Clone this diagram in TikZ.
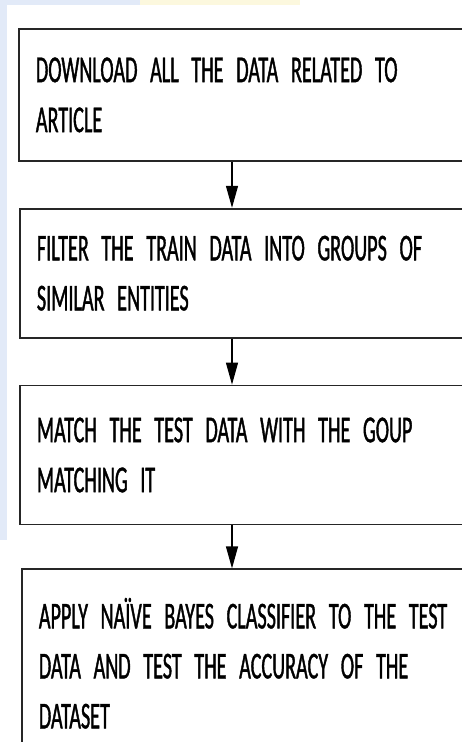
\documentclass[tikz,border=0pt]{standalone}
\usepackage{fontspec}
\setmainfont{Carlito}[FakeStretch=0.53,FakeBold=1]
\usetikzlibrary{arrows.meta,positioning}
\definecolor{washblue}{RGB}{226,234,248}
\definecolor{washyellow}{RGB}{252,248,222}

\begin{document}
\begin{tikzpicture}[>={Triangle[length=22pt,width=12pt]},x=1pt,y=-1pt,
 stepbox/.style={draw=black!85,line width=1.8pt,anchor=north west,align=left,
  text width=440pt,inner xsep=17pt,font=\fontsize{38}{50}\selectfont},
 flow/.style={->,line width=1.2pt}]
\clip (0,0) rectangle (462,742);
\fill[white] (0,0) rectangle (462,742);
\fill[washblue] (0,0) rectangle (7,540);
\fill[washblue] (0,0) rectangle (300,5);
\fill[washyellow] (140,0) rectangle (300,5);
\node[stepbox,minimum height=132pt] (download) at (18,28)
 {DOWNLOAD ALL THE DATA RELATED TO\\ARTICLE};
\node[stepbox,minimum height=129pt,below=46pt of download.south west,anchor=north west,xshift=1pt] (filter)
 {FILTER THE TRAIN DATA INTO GROUPS OF\\SIMILAR ENTITIES};
\node[stepbox,minimum height=139pt,below=46pt of filter.south west,anchor=north west] (match)
 {MATCH THE TEST DATA WITH THE GOUP\\MATCHING IT};
\node[stepbox,minimum height=188pt,below=43pt of match.south west,anchor=north west,xshift=2pt] (apply)
 {APPLY NAÏVE BAYES CLASSIFIER TO THE TEST\\DATA AND TEST THE ACCURACY OF THE\\DATASET};
\coordinate (ax) at (232,0);
\draw[flow] (download.south -| ax) -- (filter.north -| ax);
\draw[flow] (filter.south -| ax) -- (match.north -| ax);
\draw[flow] (match.south -| ax) -- (apply.north -| ax);
\end{tikzpicture}
\end{document}
